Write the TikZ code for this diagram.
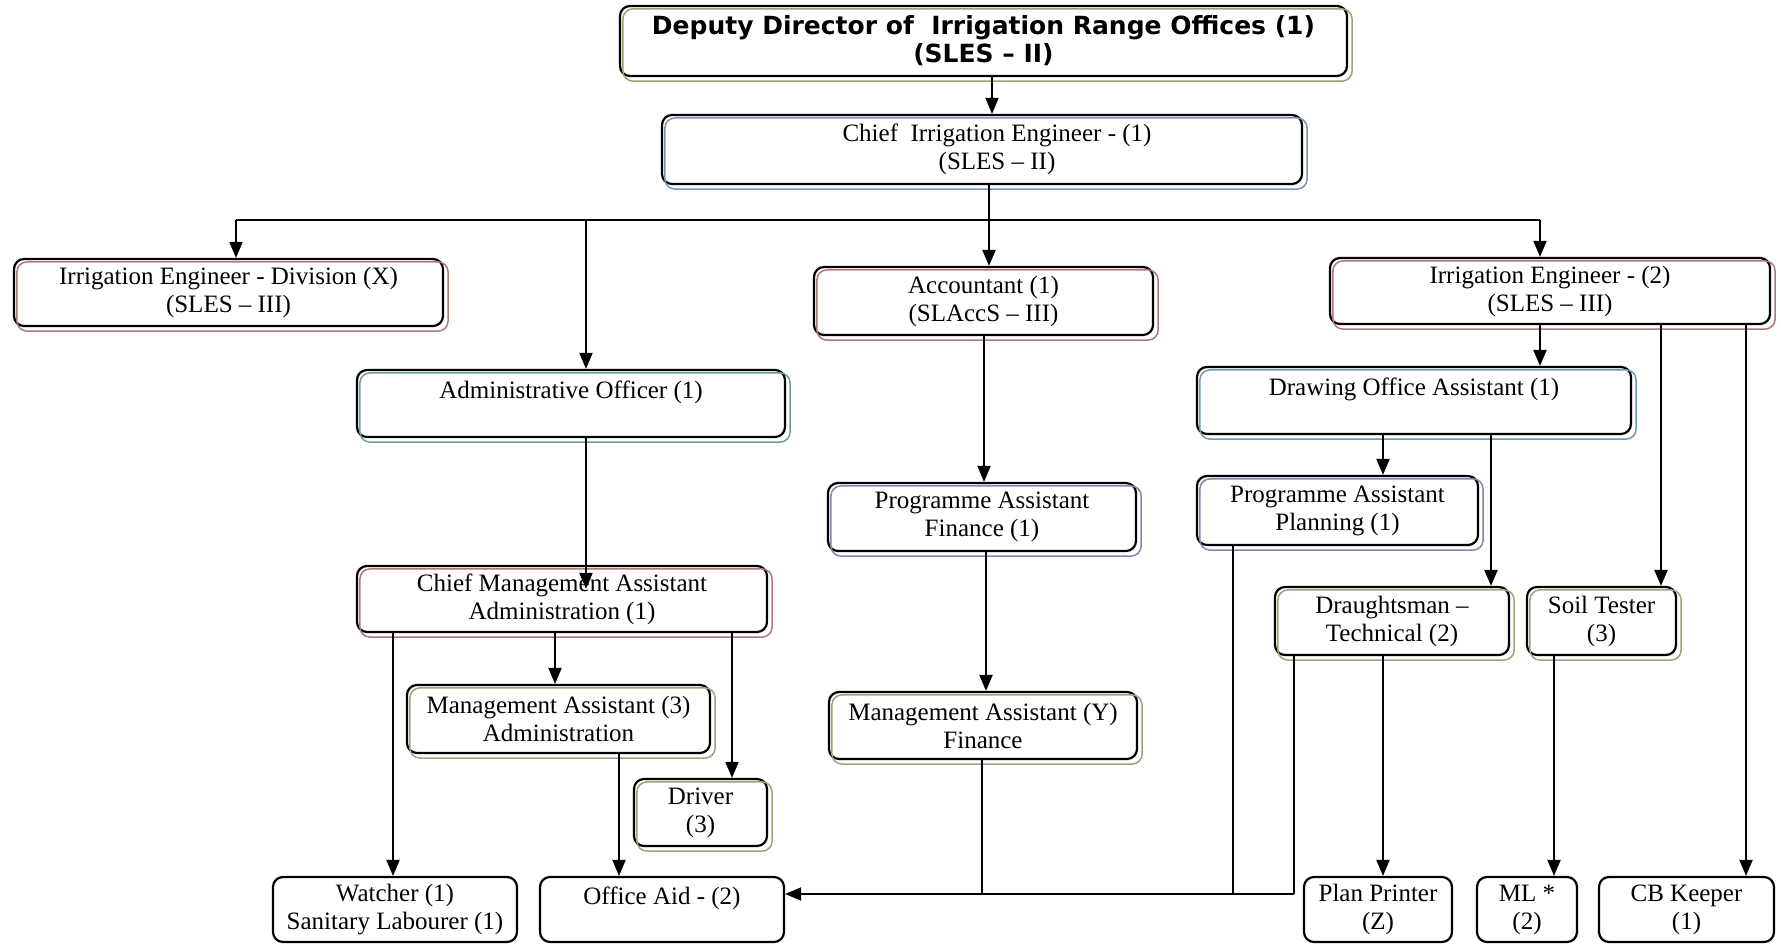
\documentclass[tikz,border=0pt]{standalone}
\usepackage{fontspec}
\setmainfont{Liberation Serif}
\newfontfamily\headfont{DejaVu Sans}
\usetikzlibrary{arrows.meta,calc}

% thin coloured frame set slightly below and right of a box
\newcommand\boxshade[2]{%
  \draw[#2, line width=1.5pt, rounded corners=10pt]
    ([shift={(4pt,-4pt)}]#1.north west) rectangle ([shift={(4pt,-4pt)}]#1.south east);}

\definecolor{shOlive}{HTML}{A0A070}
\definecolor{shBlue}{HTML}{7D93B5}
\definecolor{shRed}{HTML}{B07878}
\definecolor{shTeal}{HTML}{6F9AA8}
\definecolor{shPurple}{HTML}{8E80AA}
\definecolor{shGreen}{HTML}{98A67E}

\begin{document}
\begin{tikzpicture}[x=1pt,y=-1pt,
  box/.style={draw, line width=2.2pt, rounded corners=10pt, align=center,
    inner sep=0pt, font=\fontsize{25}{28}\selectfont},
  conn/.style={line width=2pt},
  arr/.style={conn, -{Triangle[length=16pt,width=13pt]}},
]
\useasboundingbox (0,0) rectangle (1781,944);

% ---- boxes ----
\node[box, minimum width=727pt, minimum height=70pt,
  font=\headfont\bfseries\fontsize{25}{28}\selectfont] (dep) at (983.5,41)
  {Deputy Director of\ \ Irrigation Range Offices (1)\\(SLES – II)};
\node[box, minimum width=640pt, minimum height=69pt] (chief) at (982,149.5)
  {\hspace*{30pt}Chief\ \ Irrigation Engineer - (1)\\\hspace*{30pt}(SLES – II)};

\node[box, minimum width=429pt, minimum height=67pt] (iediv) at (228.5,292.5)
  {Irrigation Engineer - Division (X)\\(SLES – III)};
\node[box, minimum width=339pt, minimum height=68pt] (acc) at (983.5,301)
  {Accountant (1)\\(SLAccS – III)};
\node[box, minimum width=440pt, minimum height=66pt] (ie2) at (1550,291)
  {Irrigation Engineer - (2)\\(SLES – III)};

\node[box, minimum width=428pt, minimum height=67pt] (ao) at (571,403.5)
  {Administrative Officer (1)\\\mbox{}};
\node[box, minimum width=434pt, minimum height=67pt] (doa) at (1414,400.5)
  {Drawing Office Assistant (1)\\\mbox{}};

\node[box, minimum width=308pt, minimum height=68pt] (paf) at (982,517)
  {Programme Assistant\\Finance (1)};
\node[box, minimum width=281pt, minimum height=69pt] (pap) at (1337.5,510.5)
  {Programme Assistant\\Planning (1)};

\node[box, minimum width=410pt, minimum height=66pt] (cma) at (562,599)
  {Chief Management Assistant\\Administration (1)};
\node[box, minimum width=303pt, minimum height=68pt] (ma3) at (558.5,719)
  {Management Assistant (3)\\Administration};
\node[box, minimum width=133pt, minimum height=67pt] (driver) at (700.5,812.5)
  {Driver\\(3)};
\node[box, minimum width=308pt, minimum height=67pt] (may) at (983,725.5)
  {Management Assistant (Y)\\Finance};
\node[box, minimum width=234pt, minimum height=68pt] (dra) at (1392,621)
  {Draughtsman –\\Technical (2)};
\node[box, minimum width=149pt, minimum height=68pt] (soil) at (1601.5,621)
  {Soil Tester\\(3)};

\node[box, minimum width=244pt, minimum height=65pt] (watcher) at (395,909.5)
  {Watcher (1)\\Sanitary Labourer (1)};
\node[box, minimum width=244pt, minimum height=65pt] (oaid) at (662,909.5)
  {Office Aid - (2)\\\mbox{}};
\node[box, minimum width=148pt, minimum height=65pt] (pp) at (1378,909.5)
  {Plan Printer\\(Z)};
\node[box, minimum width=100pt, minimum height=65pt] (ml) at (1527,909.5)
  {ML *\\(2)};
\node[box, minimum width=175pt, minimum height=65pt] (cb) at (1686.5,909.5)
  {CB Keeper\\(1)};

% ---- coloured frames ----
\boxshade{dep}{shOlive}
\boxshade{chief}{shBlue}
\boxshade{iediv}{shRed}
\boxshade{acc}{shRed}
\boxshade{ie2}{shRed}
\boxshade{cma}{shRed}
\boxshade{ao}{shTeal}
\boxshade{doa}{shTeal}
\boxshade{paf}{shPurple}
\boxshade{pap}{shPurple}
\boxshade{ma3}{shGreen}
\boxshade{driver}{shGreen}
\boxshade{may}{shGreen}
\boxshade{dra}{shGreen}
\boxshade{soil}{shGreen}

% ---- connector columns and rows ----
\coordinate (kA) at (992,0);
\coordinate (kB) at (989,0);
\coordinate (kIed) at (236,0);
\coordinate (kAo) at (586,0);
\coordinate (kIe2) at (1540,0);
\coordinate (kIe2b) at (1661,0);
\coordinate (kIe2c) at (1746,0);
\coordinate (kAcc) at (984,0);
\coordinate (kPaf) at (986,0);
\coordinate (kMay) at (982,0);
\coordinate (kDoa1) at (1383,0);
\coordinate (kDoa2) at (1491,0);
\coordinate (kPap) at (1233,0);
\coordinate (kDra1) at (1294,0);
\coordinate (kDra2) at (1383,0);
\coordinate (kSoil) at (1554,0);
\coordinate (kCma1) at (393,0);
\coordinate (kCma2) at (555,0);
\coordinate (kCma3) at (732,0);
\coordinate (kMa3) at (619,0);
\coordinate (bus) at (0,220);
\coordinate (ybot) at (0,894);
\coordinate (cmaTip) at ($(cma.north -| kAo)+(0,24)$);

% ---- connectors ----
\draw[arr] (dep.south -| kA) -- (chief.north -| kA);
\draw[conn] (chief.south -| kB) -- (kB |- bus);
\draw[conn] (kIed |- bus) -- (kIe2 |- bus);
\draw[arr] (kIed |- bus) -- (iediv.north -| kIed);
\draw[arr] (kAo |- bus) -- (ao.north -| kAo);
\draw[arr] (kB |- bus) -- (acc.north -| kB);
\draw[arr] (kIe2 |- bus) -- (ie2.north -| kIe2);

\draw[arr] (ie2.south -| kIe2) -- (doa.north -| kIe2);
\draw[arr] (ie2.south -| kIe2b) -- (soil.north -| kIe2b);
\draw[arr] (ie2.south -| kIe2c) -- (cb.north -| kIe2c);

\draw[arr] (acc.south -| kAcc) -- (paf.north -| kAcc);
\draw[arr] (paf.south -| kPaf) -- (may.north -| kPaf);

\draw[arr] (doa.south -| kDoa1) -- (pap.north -| kDoa1);
\draw[arr] (doa.south -| kDoa2) -- (dra.north -| kDoa2);
\draw[arr] (dra.south -| kDra2) -- (pp.north -| kDra2);
\draw[arr] (soil.south -| kSoil) -- (ml.north -| kSoil);

\draw[arr] (ao.south -| kAo) -- (cmaTip);
\draw[arr] (cma.south -| kCma1) -- (watcher.north -| kCma1);
\draw[arr] (cma.south -| kCma2) -- (ma3.north -| kCma2);
\draw[arr] (cma.south -| kCma3) -- (driver.north -| kCma3);
\draw[arr] (ma3.south -| kMa3) -- (oaid.north -| kMa3);

\draw[conn] (may.south -| kMay) -- (kMay |- ybot);
\draw[conn] (pap.south -| kPap) -- (kPap |- ybot);
\draw[conn] (dra.south -| kDra1) -- (kDra1 |- ybot);
\draw[arr] (kDra1 |- ybot) -- (oaid.east |- ybot);
\end{tikzpicture}
\end{document}
